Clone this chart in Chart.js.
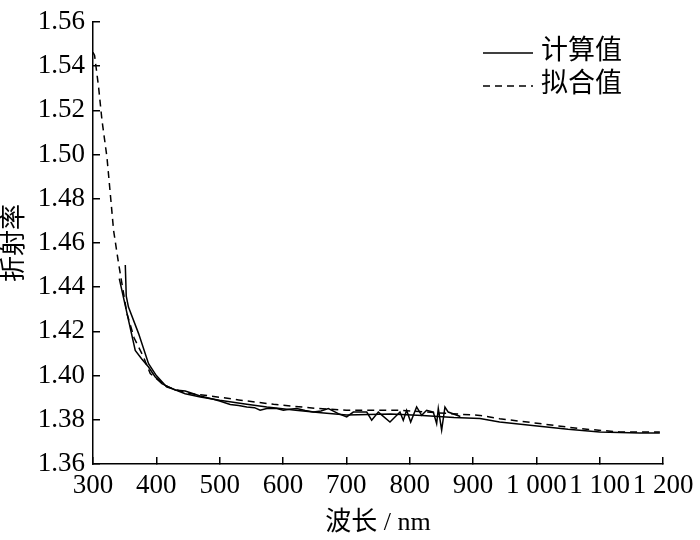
<!DOCTYPE html>
<html>
<head>
<meta charset="utf-8">
<script src="https://cdn.jsdelivr.net/npm/chart.js@4"></script>
<style>
  html, body { margin: 0; background: #fff; }
  #wrap { width: 700px; height: 540px; }
</style>
</head>
<body>
<div id="wrap"><canvas id="chart" width="700" height="540"></canvas></div>
<script>
// 拟合值 (dashed)
const fitWl = [300, 302.5, 308.8, 314.2, 322, 327.3, 332.5, 340.4, 353.6, 365, 379.8, 390.4, 416.7, 450, 485, 530, 585, 650, 700, 785, 864, 911, 942, 1005, 1069, 1132, 1195];
const fitN  = [1.5463, 1.5449, 1.5306, 1.5155, 1.4989, 1.4823, 1.4657, 1.4507, 1.4281, 1.4170, 1.4084, 1.4009, 1.3948, 1.3920, 1.3908, 1.3890, 1.3870, 1.3852, 1.3843, 1.3843, 1.3828, 1.3820, 1.3805, 1.3783, 1.3760, 1.3745, 1.3745];

// 计算值 - smooth branch
const calcWl = [341.5, 366.7, 377, 387.7, 398, 408.8, 424.6, 445.6, 469.6, 500, 540, 574.4, 620, 660, 700.6, 770, 820, 870, 911, 942, 1005, 1050, 1100, 1163, 1195];
const calcN  = [1.4439, 1.4114, 1.4075, 1.4039, 1.3995, 1.3964, 1.3941, 1.3918, 1.3903, 1.3888, 1.3872, 1.3858, 1.3843, 1.3832, 1.3822, 1.3826, 1.3820, 1.3810, 1.3806, 1.3790, 1.3771, 1.3757, 1.3745, 1.3740, 1.3740];

// 计算值 - noisy branch
const calc2Wl = [351, 352.5, 356, 372, 387.7, 400, 414, 430, 445.6, 469.2, 490.2, 500, 516.6, 530, 542.9, 555, 563.9, 574.4, 590.2, 600.6, 610, 621.8, 635, 648, 660, 671.6, 687.4, 700.6, 711, 732.2, 740, 750.5, 768.9, 784.7, 789.9, 795.2, 801.6, 811, 818.9, 826.8, 837.3, 842.6, 845.2, 850.5, 855.7, 860.9, 880];
const calc2N  = [1.4500, 1.4360, 1.4310, 1.4190, 1.4054, 1.4000, 1.3956, 1.3935, 1.3930, 1.3908, 1.3893, 1.3885, 1.3869, 1.3865, 1.3858, 1.3855, 1.3843, 1.3851, 1.3851, 1.3843, 1.3848, 1.3851, 1.3842, 1.3835, 1.3840, 1.3851, 1.3828, 1.3813, 1.3835, 1.3835, 1.3798, 1.3835, 1.3790, 1.3835, 1.3798, 1.3843, 1.3790, 1.3858, 1.3820, 1.3843, 1.3835, 1.3783, 1.3851, 1.3753, 1.3858, 1.3835, 1.3815];

// 刻度
const xTicks = [300, 400, 500, 600, 700, 800, 900, 1000, 1100, 1200];
const xTickLabels = ['300', '400', '500', '600', '700', '800', '900', '1 000', '1 100', '1 200'];

const pts = (xs, ys) => xs.map((x, i) => ({ x: x, y: ys[i] }));

Chart.defaults.font.family = "'Liberation Serif', 'Noto Sans CJK SC', serif";
Chart.defaults.color = '#000';

// legend drawn inside the plot, top right
const innerLegend = {
  id: 'innerLegend',
  afterDraw(chart) {
    const ctx = chart.ctx;
    const items = chart.data.datasets.filter(d => d.showInLegend);
    ctx.save();
    ctx.font = "27px 'Liberation Serif', 'Noto Sans CJK SC', serif";
    ctx.textBaseline = 'middle';
    ctx.fillStyle = '#000';
    items.forEach((d, i) => {
      const y = 52 + i * 33;
      ctx.strokeStyle = d.borderColor;
      ctx.lineWidth = d.borderWidth;
      ctx.setLineDash(d.borderDash || []);
      ctx.beginPath();
      ctx.moveTo(483, y + 1);
      ctx.lineTo(533, y + 1);
      ctx.stroke();
      ctx.fillText(d.label, 541, y);
    });
    ctx.restore();
  }
};

new Chart(document.getElementById('chart'), {
  type: 'line',
  data: {
    datasets: [
      { label: '计算值', showInLegend: true, data: pts(calcWl, calcN), borderColor: '#000', borderWidth: 1.5, pointRadius: 0, tension: 0 },
      { label: '计算值2', data: pts(calc2Wl, calc2N), borderColor: '#000', borderWidth: 1.5, pointRadius: 0, tension: 0 },
      { label: '拟合值', showInLegend: true, data: pts(fitWl, fitN), borderColor: '#000', borderWidth: 1.5, borderDash: [7, 5], pointRadius: 0, tension: 0 }
    ]
  },
  options: {
    responsive: false,
    animation: false,
    layout: { padding: { top: 22, right: 37, left: 0, bottom: 0 } },
    plugins: { legend: { display: false }, tooltip: { enabled: false } },
    scales: {
      x: {
        type: 'linear',
        min: 300, max: 1200,
        afterFit(s) { s.height = 76; s.paddingLeft = 0; s.paddingRight = 0; },
        afterBuildTicks(s) { s.ticks = xTicks.map(v => ({ value: v })); },
        ticks: {
          autoSkip: false, maxRotation: 0, minRotation: 0, padding: 13,
          font: { size: 27 },
          callback: v => xTickLabels[xTicks.indexOf(v)]
        },
        grid: { drawOnChartArea: false, tickLength: -7, color: '#000', lineWidth: 1.5 },
        border: { color: '#000', width: 1.5 },
        title: { display: true, text: '波长 / nm', font: { size: 26 }, padding: { top: 0, bottom: 1 } }
      },
      y: {
        min: 1.36, max: 1.56,
        afterFit(s) { s.width = 93; s.paddingTop = 0; s.paddingBottom = 0; },
        ticks: { stepSize: 0.02, padding: 15, font: { size: 27 }, callback: v => v.toFixed(2) },
        grid: { drawOnChartArea: false, tickLength: -7, color: '#000', lineWidth: 1.5 },
        border: { color: '#000', width: 1.5 },
        title: { display: true, text: '折射率', font: { size: 26 }, padding: { top: 0, bottom: 0 } }
      }
    }
  },
  plugins: [innerLegend]
});
</script>
</body>
</html>
